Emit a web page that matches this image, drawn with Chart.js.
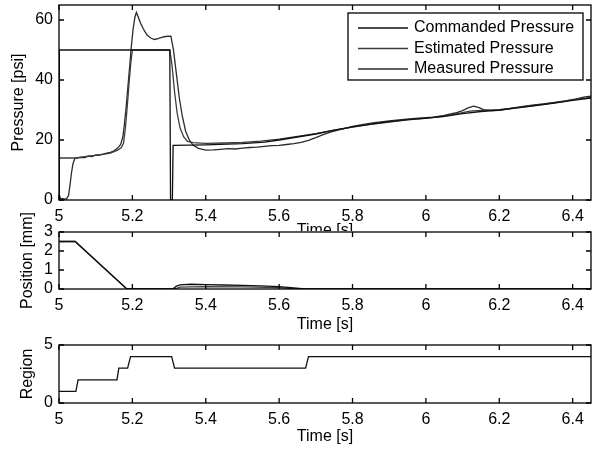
<!DOCTYPE html>
<html lang="en">

<head>
    <meta charset="UTF-8">
    <meta name="viewport" content="width=device-width, initial-scale=1.0">
    <!--Link ChartJs-->
    <script src="https://cdn.jsdelivr.net/npm/chart.js"></script>
    <title>Pressure | Position | Region</title>
    <style>
        body { margin: 0; background: #fff; }
        .figura { position: relative; width: 592px; height: 453px; overflow: hidden; background: #fff; }
        .painel { position: absolute; left: 0; width: 592px; }
        #p1 { top: 0; height: 245px; }
        #p2 { top: 200px; height: 136px; }
        #p3 { top: 310px; height: 143px; }
    </style>
</head>

<body>

    <div class="figura">
        <div class="painel" id="p1"><canvas id="chartPressao"></canvas></div>
        <div class="painel" id="p2"><canvas id="chartPosicao"></canvas></div>
        <div class="painel" id="p3"><canvas id="chartRegiao"></canvas></div>
    </div>

</body>

</html>
<script>

    // Dados (tempo em s)

    // Commanded Pressure [psi]
    const tempoComandada = [5.000, 5.001, 5.302, 5.304, 5.309, 5.311, 5.400, 5.500, 5.560, 5.600, 5.650, 5.700, 5.750,
        5.800, 5.850, 5.900, 5.950, 6.000, 6.050, 6.100, 6.150, 6.200, 6.250, 6.300, 6.350, 6.400, 6.450];
    const pressaoComandada = [0, 50, 50, 0, 0, 18.2, 18.4, 18.8, 19.3, 20.0, 21.0, 22.0, 23.3,
        24.4, 25.3, 26.1, 26.8, 27.3, 27.9, 28.8, 29.5, 30.0, 30.7, 31.5, 32.3, 33.2, 34.0];

    // Estimated Pressure [psi]
    const tempoEstimada = [5.000, 5.043, 5.050, 5.060, 5.080, 5.100, 5.120, 5.140, 5.160, 5.170, 5.176, 5.181, 5.186,
        5.191, 5.196, 5.200, 5.302, 5.308, 5.315, 5.322, 5.330, 5.340, 5.350, 5.365, 5.400, 5.450, 5.500, 5.550,
        5.600, 5.650, 5.700, 5.750, 5.800, 5.850, 5.900, 5.950, 6.000, 6.050, 6.090, 6.120, 6.150, 6.200, 6.250,
        6.300, 6.350, 6.400, 6.450];
    const pressaoEstimada = [14, 14, 14.1, 14.3, 14.6, 14.9, 15.2, 15.6, 16.6, 17.5, 19, 24, 31,
        39, 46, 50, 50, 45, 36, 29, 24, 21, 19.5, 19.1, 18.9, 19.0, 19.2, 19.6,
        20.3, 21.2, 22.1, 23.3, 24.3, 25.2, 26.0, 26.7, 27.2, 27.9, 28.9, 29.6, 29.9, 30.1, 30.8,
        31.6, 32.4, 33.4, 34.2];

    // Measured Pressure [psi]
    const tempoMedida = [5.000, 5.004, 5.020, 5.026, 5.030, 5.034, 5.038, 5.043, 5.050, 5.060, 5.070, 5.080, 5.090,
        5.100, 5.110, 5.120, 5.130, 5.140, 5.150, 5.160, 5.168, 5.174, 5.178, 5.183, 5.188, 5.193, 5.197, 5.202,
        5.207, 5.211, 5.216, 5.222, 5.230, 5.240, 5.250, 5.260, 5.270, 5.280, 5.290, 5.305, 5.312, 5.320, 5.328,
        5.336, 5.345, 5.355, 5.365, 5.380, 5.400, 5.420, 5.440, 5.460, 5.480, 5.500, 5.520, 5.540, 5.560, 5.580,
        5.600, 5.620, 5.640, 5.660, 5.680, 5.700, 5.720, 5.740, 5.760, 5.780, 5.800, 5.830, 5.860, 5.900, 5.940,
        5.980, 6.020, 6.050, 6.080, 6.100, 6.115, 6.130, 6.145, 6.160, 6.180, 6.200, 6.230, 6.260, 6.290, 6.320,
        6.350, 6.380, 6.410, 6.430, 6.450];
    const pressaoMedida = [2.0, 0.5, 0.3, 1.5, 5, 9, 12, 13.8, 14.0, 14.2, 14.1, 14.6, 14.5,
        15.0, 15.0, 15.3, 15.6, 15.9, 16.4, 17.3, 18.5, 21, 25, 31, 38, 45, 51, 57,
        61, 62.5, 61, 59, 57, 55, 54, 53.5, 53.8, 54.2, 54.5, 54.6, 50, 42, 34,
        28, 23, 20, 18.3, 17.2, 16.6, 16.7, 16.9, 17.1, 17.0, 17.3, 17.5, 17.6, 17.9, 18.1,
        18.2, 18.5, 18.8, 19.2, 19.9, 20.8, 21.8, 22.6, 23.3, 23.9, 24.5, 25.2, 25.8, 26.4, 26.9,
        27.3, 27.6, 28.2, 29.0, 29.8, 30.7, 31.3, 30.8, 30.0, 29.8, 29.9, 30.5, 31.1, 31.6, 32.0,
        32.5, 33.0, 33.7, 34.3, 34.6];

    // Position [mm]
    const tempoPosicao = [5.000, 5.044, 5.185, 5.310, 5.320, 5.330, 5.360, 5.400, 5.450, 5.500, 5.550, 5.600, 5.640, 5.670, 6.450];
    const posicaoA = [2.5, 2.5, 0, 0, 0.15, 0.22, 0.25, 0.23, 0.21, 0.19, 0.16, 0.12, 0.06, 0, 0];
    const tempoPosicaoB = [5.000, 5.044, 5.185, 5.315, 5.330, 5.400, 5.500, 5.600, 5.650, 6.450];
    const posicaoB = [2.5, 2.5, 0, 0, 0.1, 0.13, 0.11, 0.07, 0, 0];

    // Region
    const tempoRegiao = [5.000, 5.046, 5.052, 5.158, 5.163, 5.187, 5.195, 5.307, 5.315, 5.672, 5.680, 6.450];
    const regiao = [1, 1, 2, 2, 3, 3, 4, 4, 3, 3, 4, 4];

    // Eixos e marcas
    const xTicks = { min: 5, max: 6.45, step: 0.2 };

    Chart.defaults.font.family = '"Liberation Sans", Arial, Helvetica, sans-serif';
    Chart.defaults.font.size = 16;
    Chart.defaults.color = '#000';

    function pontos(tempos, valores) {
        let lista = [];
        for (let i = 0; i < tempos.length; i++) {
            lista.push({ x: tempos[i], y: valores[i] });
        }
        return lista;
    }

    function serie(label, dados, cor) {
        return {
            label: label,
            data: dados,
            borderColor: cor,
            borderWidth: 1.3,
            pointRadius: 0,
            tension: 0,
            fill: false
        };
    }

    function rotulo(v) {
        return String(Math.round(v * 100) / 100);
    }

    function eixoX(altura, padTitulo) {
        return {
            type: 'linear',
            min: xTicks.min,
            max: xTicks.max,
            grid: { display: false, drawTicks: false },
            border: { display: false },
            ticks: { stepSize: xTicks.step, includeBounds: false, padding: 7, autoSkip: false, maxRotation: 0, callback: rotulo },
            title: { display: true, text: 'Time [s]', padding: { top: 0, bottom: padTitulo } },
            afterFit: function (s) { s.height = altura; s.paddingLeft = 0; s.paddingRight = 0; }
        };
    }

    function eixoY(max, passo, titulo, padTitulo) {
        return {
            min: 0,
            max: max,
            grid: { display: false, drawTicks: false },
            border: { display: false },
            ticks: { stepSize: passo, includeBounds: false, padding: 6, autoSkip: false, callback: rotulo },
            title: { display: true, text: titulo, padding: { top: padTitulo, bottom: 0 } },
            afterFit: function (s) { s.width = 59; s.paddingTop = 0; s.paddingBottom = 0; }
        };
    }

    // fundo branco só na área do eixo (cobre o rótulo do gráfico de cima)
    const fundo = {
        id: 'fundo',
        beforeDraw(chart) {
            const a = chart.chartArea;
            const ctx = chart.ctx;
            ctx.save();
            ctx.fillStyle = '#fff';
            ctx.fillRect(a.left - 1, a.top - 1, chart.width - a.left + 1, chart.height - a.top + 1);
            ctx.restore();
        }
    };

    // caixa do eixo com marcas para dentro (estilo matlab)
    const moldura = {
        id: 'moldura',
        afterDatasetsDraw(chart) {
            const ctx = chart.ctx;
            const a = chart.chartArea;
            const x = chart.scales.x;
            const y = chart.scales.y;
            ctx.save();
            ctx.strokeStyle = '#000';
            ctx.lineWidth = 1.3;
            ctx.strokeRect(a.left, a.top, a.right - a.left, a.bottom - a.top);
            ctx.beginPath();
            x.ticks.forEach(function (t) {
                const px = x.getPixelForValue(t.value);
                ctx.moveTo(px, a.bottom); ctx.lineTo(px, a.bottom - 5);
                ctx.moveTo(px, a.top); ctx.lineTo(px, a.top + 5);
            });
            y.ticks.forEach(function (t) {
                const py = y.getPixelForValue(t.value);
                ctx.moveTo(a.left, py); ctx.lineTo(a.left + 5, py);
                ctx.moveTo(a.right, py); ctx.lineTo(a.right - 5, py);
            });
            ctx.stroke();
            ctx.restore();
        }
    };

    // legenda dentro do gráfico, canto superior direito
    const legendaDentro = {
        id: 'legendaDentro',
        afterDraw(chart) {
            const ctx = chart.ctx;
            const a = chart.chartArea;
            const largura = 235, altura = 67;
            const esq = a.right - 8 - largura;
            const topo = a.top + 8;
            ctx.save();
            ctx.fillStyle = '#fff';
            ctx.fillRect(esq, topo, largura, altura);
            ctx.strokeStyle = '#000';
            ctx.lineWidth = 1.3;
            ctx.strokeRect(esq, topo, largura, altura);
            ctx.font = '16px "Liberation Sans", Arial, Helvetica, sans-serif';
            ctx.textBaseline = 'middle';
            chart.data.datasets.forEach(function (d, i) {
                const yy = topo + 15 + i * 20.5;
                ctx.strokeStyle = d.borderColor;
                ctx.lineWidth = 1.3;
                ctx.beginPath();
                ctx.moveTo(esq + 10, yy);
                ctx.lineTo(esq + 60, yy);
                ctx.stroke();
                ctx.fillStyle = '#000';
                ctx.fillText(d.label, esq + 66, yy);
            });
            ctx.restore();
        }
    };

    const configPressao = {
        type: 'line',
        data: {
            datasets: [
                serie('Commanded Pressure', pontos(tempoComandada, pressaoComandada), '#111'),
                serie('Estimated Pressure', pontos(tempoEstimada, pressaoEstimada), '#3c3c3c'),
                serie('Measured Pressure', pontos(tempoMedida, pressaoMedida), '#2a2a2a')
            ]
        },
        options: {
            responsive: true,
            maintainAspectRatio: false,
            animation: false,
            layout: { padding: { top: 5, right: 1, left: 0, bottom: 0 } },
            plugins: { legend: { display: false }, tooltip: { enabled: false } },
            scales: { x: eixoX(45, 4.4), y: eixoY(65, 20, 'Pressure [psi]', 9.4) }
        },
        plugins: [moldura, legendaDentro]
    };

    const configPosicao = {
        type: 'line',
        data: {
            datasets: [
                serie('Position', pontos(tempoPosicao, posicaoA), '#111'),
                serie('Estimated Position', pontos(tempoPosicaoB, posicaoB), '#3c3c3c')
            ]
        },
        options: {
            responsive: true,
            maintainAspectRatio: false,
            animation: false,
            layout: { padding: { top: 32, right: 1, left: 0, bottom: 0 } },
            plugins: { legend: { display: false }, tooltip: { enabled: false } },
            scales: { x: eixoX(47, 1.4), y: eixoY(3, 1, 'Position [mm]', 18.4) }
        },
        plugins: [fundo, moldura]
    };

    const configRegiao = {
        type: 'line',
        data: {
            datasets: [
                serie('Region', pontos(tempoRegiao, regiao), '#111')
            ]
        },
        options: {
            responsive: true,
            maintainAspectRatio: false,
            animation: false,
            layout: { padding: { top: 35, right: 1, left: 0, bottom: 0 } },
            plugins: { legend: { display: false }, tooltip: { enabled: false } },
            scales: { x: eixoX(50, 6.4), y: eixoY(5, 5, 'Region', 18.4) }
        },
        plugins: [fundo, moldura]
    };

    let chartPressao = new Chart(document.getElementById('chartPressao'), configPressao);
    let chartPosicao = new Chart(document.getElementById('chartPosicao'), configPosicao);
    let chartRegiao = new Chart(document.getElementById('chartRegiao'), configRegiao);

</script>
